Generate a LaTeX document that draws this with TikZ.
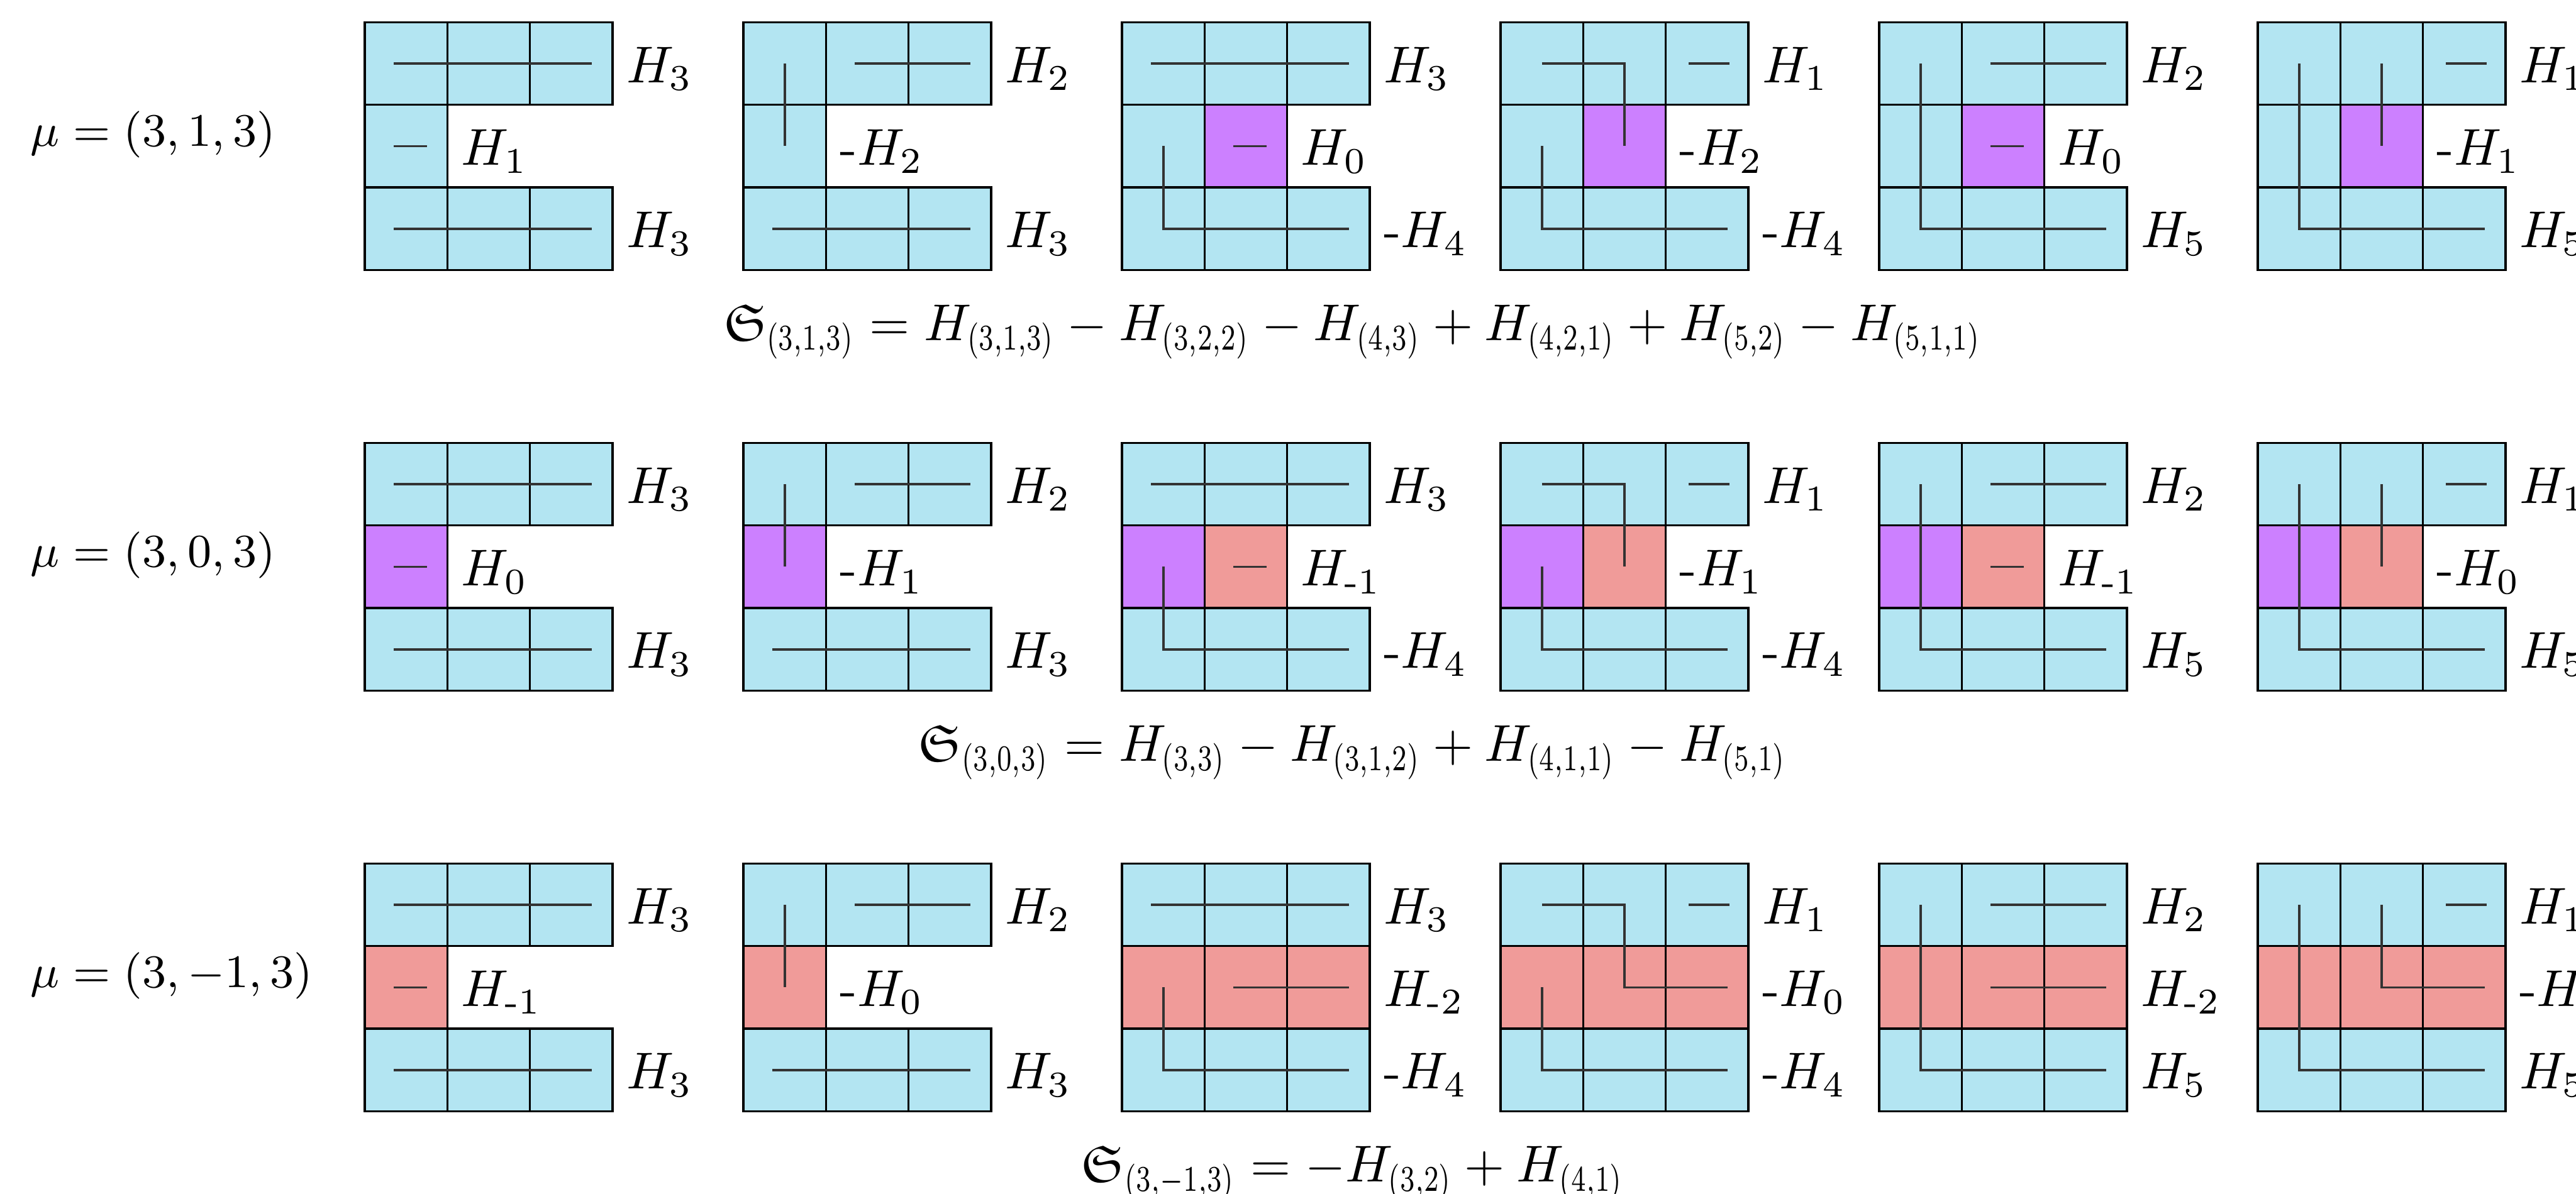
\documentclass[tikz,border=0pt]{standalone}
\usepackage{amsmath,amssymb,graphicx}
\definecolor{tabcyan}{RGB}{179,229,242}
\definecolor{tabpurple}{RGB}{204,128,255}
\definecolor{tabsalmon}{RGB}{240,155,153}
\newcommand{\subdash}{\text{-}}
\newcommand{\idx}[1]{\scalebox{0.72}[1]{$\scriptstyle#1$}}
\newcommand{\cellat}[3]{\draw[cellbox, fill=#3] (#1,-#2) rectangle ++(1,-1);}
\newcommand{\outerrows}{\foreach \c in {0,1,2} {\cellat{\c}{0}{tabcyan}\cellat{\c}{2}{tabcyan}}}

\begin{document}
\begin{tikzpicture}[x=0.56cm, y=0.56cm,
    cellbox/.style={draw=black, line width=0.4pt},
    strip/.style={draw=black!80, line width=0.45pt},
    lbl/.style={anchor=base west, inner sep=2.5pt},
    mulbl/.style={anchor=base west, inner sep=0pt, font=\small},
    sumlbl/.style={anchor=base}]
    \useasboundingbox (0,0) rectangle (31.19,-14.46);
    \clip (0,0) rectangle (31.19,-14.46);

    % mu = (3,1,3)
    \node[mulbl] (mufirst) at (0.36,-1.77) {$\mu = (3,1,3)$};
    \begin{scope}[shift={(4.417,-0.27)}]
      \outerrows
      \cellat{0}{1}{tabcyan}
      \draw[strip] (0.35,-0.5) -- (2.75,-0.5) (0.35,-1.5) -- (0.75,-1.5) (0.35,-2.5) -- (2.75,-2.5);
      \node[lbl] (atop1) at (3,-0.73) {$H_3$};
      \node[lbl] (amid1) at (1,-1.73) {$H_1$};
      \node[lbl] (abot1) at (3,-2.73) {$H_3$};
    \end{scope}
    \begin{scope}[shift={(9.001,-0.27)}]
      \outerrows
      \cellat{0}{1}{tabcyan}
      \draw[strip] (0.5,-0.5) -- (0.5,-1.5) (1.35,-0.5) -- (2.75,-0.5) (0.35,-2.5) -- (2.75,-2.5);
      \node[lbl] (atop2) at (3,-0.73) {$H_2$};
      \node[lbl] (amid2) at (1,-1.73) {-$H_2$};
      \node[lbl] (abot2) at (3,-2.73) {$H_3$};
    \end{scope}
    \begin{scope}[shift={(13.585,-0.27)}]
      \outerrows
      \cellat{0}{1}{tabcyan}\cellat{1}{1}{tabpurple}
      \draw[strip] (0.35,-0.5) -- (2.75,-0.5) (0.5,-1.5) -- (0.5,-2.5) -- (2.75,-2.5) (1.35,-1.5) -- (1.75,-1.5);
      \node[lbl] (atop3) at (3,-0.73) {$H_3$};
      \node[lbl] (amid3) at (2,-1.73) {$H_0$};
      \node[lbl] (abot3) at (3,-2.73) {-$H_4$};
    \end{scope}
    \begin{scope}[shift={(18.169,-0.27)}]
      \outerrows
      \cellat{0}{1}{tabcyan}\cellat{1}{1}{tabpurple}
      \draw[strip] (0.5,-0.5) -- (1.5,-0.5) -- (1.5,-1.5) (2.28,-0.5) -- (2.77,-0.5) (0.5,-1.5) -- (0.5,-2.5) -- (2.75,-2.5);
      \node[lbl] (atop4) at (3,-0.73) {$H_1$};
      \node[lbl] (amid4) at (2,-1.73) {-$H_2$};
      \node[lbl] (abot4) at (3,-2.73) {-$H_4$};
    \end{scope}
    \begin{scope}[shift={(22.753,-0.27)}]
      \outerrows
      \cellat{0}{1}{tabcyan}\cellat{1}{1}{tabpurple}
      \draw[strip] (0.5,-0.5) -- (0.5,-2.5) -- (2.75,-2.5) (1.35,-0.5) -- (2.75,-0.5) (1.35,-1.5) -- (1.75,-1.5);
      \node[lbl] (atop5) at (3,-0.73) {$H_2$};
      \node[lbl] (amid5) at (2,-1.73) {$H_0$};
      \node[lbl] (abot5) at (3,-2.73) {$H_5$};
    \end{scope}
    \begin{scope}[shift={(27.337,-0.27)}]
      \outerrows
      \cellat{0}{1}{tabcyan}\cellat{1}{1}{tabpurple}
      \draw[strip] (0.5,-0.5) -- (0.5,-2.5) -- (2.75,-2.5) (1.5,-0.5) -- (1.5,-1.5) (2.28,-0.5) -- (2.77,-0.5);
      \node[lbl] (atop6) at (3,-0.73) {$H_1$};
      \node[lbl] (amid6) at (2,-1.73) {-$H_1$};
      \node[lbl] (abot6) at (3,-2.73) {$H_5$};
    \end{scope}
    \node[sumlbl] (sumfirst) at (16.38,-4.126)
      {$\mathfrak{S}_{\idx{(3,1,3)}} = H_{\idx{(3,1,3)}} - H_{\idx{(3,2,2)}} - H_{\idx{(4,3)}} + H_{\idx{(4,2,1)}} + H_{\idx{(5,2)}} - H_{\idx{(5,1,1)}}$};

    % mu = (3,0,3)
    \node[mulbl] (musecond) at (0.36,-6.864) {$\mu = (3,0,3)$};
    \begin{scope}[shift={(4.417,-5.364)}]
      \outerrows
      \cellat{0}{1}{tabpurple}
      \draw[strip] (0.35,-0.5) -- (2.75,-0.5) (0.35,-1.5) -- (0.75,-1.5) (0.35,-2.5) -- (2.75,-2.5);
      \node[lbl] (btop1) at (3,-0.73) {$H_3$};
      \node[lbl] (bmid1) at (1,-1.73) {$H_0$};
      \node[lbl] (bbot1) at (3,-2.73) {$H_3$};
    \end{scope}
    \begin{scope}[shift={(9.001,-5.364)}]
      \outerrows
      \cellat{0}{1}{tabpurple}
      \draw[strip] (0.5,-0.5) -- (0.5,-1.5) (1.35,-0.5) -- (2.75,-0.5) (0.35,-2.5) -- (2.75,-2.5);
      \node[lbl] (btop2) at (3,-0.73) {$H_2$};
      \node[lbl] (bmid2) at (1,-1.73) {-$H_1$};
      \node[lbl] (bbot2) at (3,-2.73) {$H_3$};
    \end{scope}
    \begin{scope}[shift={(13.585,-5.364)}]
      \outerrows
      \cellat{0}{1}{tabpurple}\cellat{1}{1}{tabsalmon}
      \draw[strip] (0.35,-0.5) -- (2.75,-0.5) (0.5,-1.5) -- (0.5,-2.5) -- (2.75,-2.5) (1.35,-1.5) -- (1.75,-1.5);
      \node[lbl] (btop3) at (3,-0.73) {$H_3$};
      \node[lbl] (bmid3) at (2,-1.73) {$H_{\subdash1}$};
      \node[lbl] (bbot3) at (3,-2.73) {-$H_4$};
    \end{scope}
    \begin{scope}[shift={(18.169,-5.364)}]
      \outerrows
      \cellat{0}{1}{tabpurple}\cellat{1}{1}{tabsalmon}
      \draw[strip] (0.5,-0.5) -- (1.5,-0.5) -- (1.5,-1.5) (2.28,-0.5) -- (2.77,-0.5) (0.5,-1.5) -- (0.5,-2.5) -- (2.75,-2.5);
      \node[lbl] (btop4) at (3,-0.73) {$H_1$};
      \node[lbl] (bmid4) at (2,-1.73) {-$H_1$};
      \node[lbl] (bbot4) at (3,-2.73) {-$H_4$};
    \end{scope}
    \begin{scope}[shift={(22.753,-5.364)}]
      \outerrows
      \cellat{0}{1}{tabpurple}\cellat{1}{1}{tabsalmon}
      \draw[strip] (0.5,-0.5) -- (0.5,-2.5) -- (2.75,-2.5) (1.35,-0.5) -- (2.75,-0.5) (1.35,-1.5) -- (1.75,-1.5);
      \node[lbl] (btop5) at (3,-0.73) {$H_2$};
      \node[lbl] (bmid5) at (2,-1.73) {$H_{\subdash1}$};
      \node[lbl] (bbot5) at (3,-2.73) {$H_5$};
    \end{scope}
    \begin{scope}[shift={(27.337,-5.364)}]
      \outerrows
      \cellat{0}{1}{tabpurple}\cellat{1}{1}{tabsalmon}
      \draw[strip] (0.5,-0.5) -- (0.5,-2.5) -- (2.75,-2.5) (1.5,-0.5) -- (1.5,-1.5) (2.28,-0.5) -- (2.77,-0.5);
      \node[lbl] (btop6) at (3,-0.73) {$H_1$};
      \node[lbl] (bmid6) at (2,-1.73) {-$H_0$};
      \node[lbl] (bbot6) at (3,-2.73) {$H_5$};
    \end{scope}
    \node[sumlbl] (sumsecond) at (16.38,-9.22)
      {$\mathfrak{S}_{\idx{(3,0,3)}} = H_{\idx{(3,3)}} - H_{\idx{(3,1,2)}} + H_{\idx{(4,1,1)}} - H_{\idx{(5,1)}}$};

    % mu = (3,-1,3)
    \node[mulbl] (muthird) at (0.36,-11.958) {$\mu = (3,-1,3)$};
    \begin{scope}[shift={(4.417,-10.458)}]
      \outerrows
      \cellat{0}{1}{tabsalmon}
      \draw[strip] (0.35,-0.5) -- (2.75,-0.5) (0.35,-1.5) -- (0.75,-1.5) (0.35,-2.5) -- (2.75,-2.5);
      \node[lbl] (ctop1) at (3,-0.73) {$H_3$};
      \node[lbl] (cmid1) at (1,-1.73) {$H_{\subdash1}$};
      \node[lbl] (cbot1) at (3,-2.73) {$H_3$};
    \end{scope}
    \begin{scope}[shift={(9.001,-10.458)}]
      \outerrows
      \cellat{0}{1}{tabsalmon}
      \draw[strip] (0.5,-0.5) -- (0.5,-1.5) (1.35,-0.5) -- (2.75,-0.5) (0.35,-2.5) -- (2.75,-2.5);
      \node[lbl] (ctop2) at (3,-0.73) {$H_2$};
      \node[lbl] (cmid2) at (1,-1.73) {-$H_0$};
      \node[lbl] (cbot2) at (3,-2.73) {$H_3$};
    \end{scope}
    \begin{scope}[shift={(13.585,-10.458)}]
      \outerrows
      \foreach \c in {0,1,2} {\cellat{\c}{1}{tabsalmon}}
      \draw[strip] (0.35,-0.5) -- (2.75,-0.5) (0.5,-1.5) -- (0.5,-2.5) -- (2.75,-2.5) (1.35,-1.5) -- (2.75,-1.5);
      \node[lbl] (ctop3) at (3,-0.73) {$H_3$};
      \node[lbl] (cmid3) at (3,-1.73) {$H_{\subdash2}$};
      \node[lbl] (cbot3) at (3,-2.73) {-$H_4$};
    \end{scope}
    \begin{scope}[shift={(18.169,-10.458)}]
      \outerrows
      \foreach \c in {0,1,2} {\cellat{\c}{1}{tabsalmon}}
      \draw[strip] (0.5,-0.5) -- (1.5,-0.5) -- (1.5,-1.5) -- (2.75,-1.5) (2.28,-0.5) -- (2.77,-0.5) (0.5,-1.5) -- (0.5,-2.5) -- (2.75,-2.5);
      \node[lbl] (ctop4) at (3,-0.73) {$H_1$};
      \node[lbl] (cmid4) at (3,-1.73) {-$H_0$};
      \node[lbl] (cbot4) at (3,-2.73) {-$H_4$};
    \end{scope}
    \begin{scope}[shift={(22.753,-10.458)}]
      \outerrows
      \foreach \c in {0,1,2} {\cellat{\c}{1}{tabsalmon}}
      \draw[strip] (0.5,-0.5) -- (0.5,-2.5) -- (2.75,-2.5) (1.35,-0.5) -- (2.75,-0.5) (1.35,-1.5) -- (2.75,-1.5);
      \node[lbl] (ctop5) at (3,-0.73) {$H_2$};
      \node[lbl] (cmid5) at (3,-1.73) {$H_{\subdash2}$};
      \node[lbl] (cbot5) at (3,-2.73) {$H_5$};
    \end{scope}
    \begin{scope}[shift={(27.337,-10.458)}]
      \outerrows
      \foreach \c in {0,1,2} {\cellat{\c}{1}{tabsalmon}}
      \draw[strip] (0.5,-0.5) -- (0.5,-2.5) -- (2.75,-2.5) (1.5,-0.5) -- (1.5,-1.5) -- (2.75,-1.5) (2.28,-0.5) -- (2.77,-0.5);
      \node[lbl] (ctop6) at (3,-0.73) {$H_1$};
      \node[lbl] (cmid6) at (3,-1.73) {-$H_{\subdash1}$};
      \node[lbl] (cbot6) at (3,-2.73) {$H_5$};
    \end{scope}
    \node[sumlbl] (sumthird) at (16.38,-14.314)
      {$\mathfrak{S}_{\idx{(3,-1,3)}} = -H_{\idx{(3,2)}} + H_{\idx{(4,1)}}$};
  \end{tikzpicture}
\end{document}
